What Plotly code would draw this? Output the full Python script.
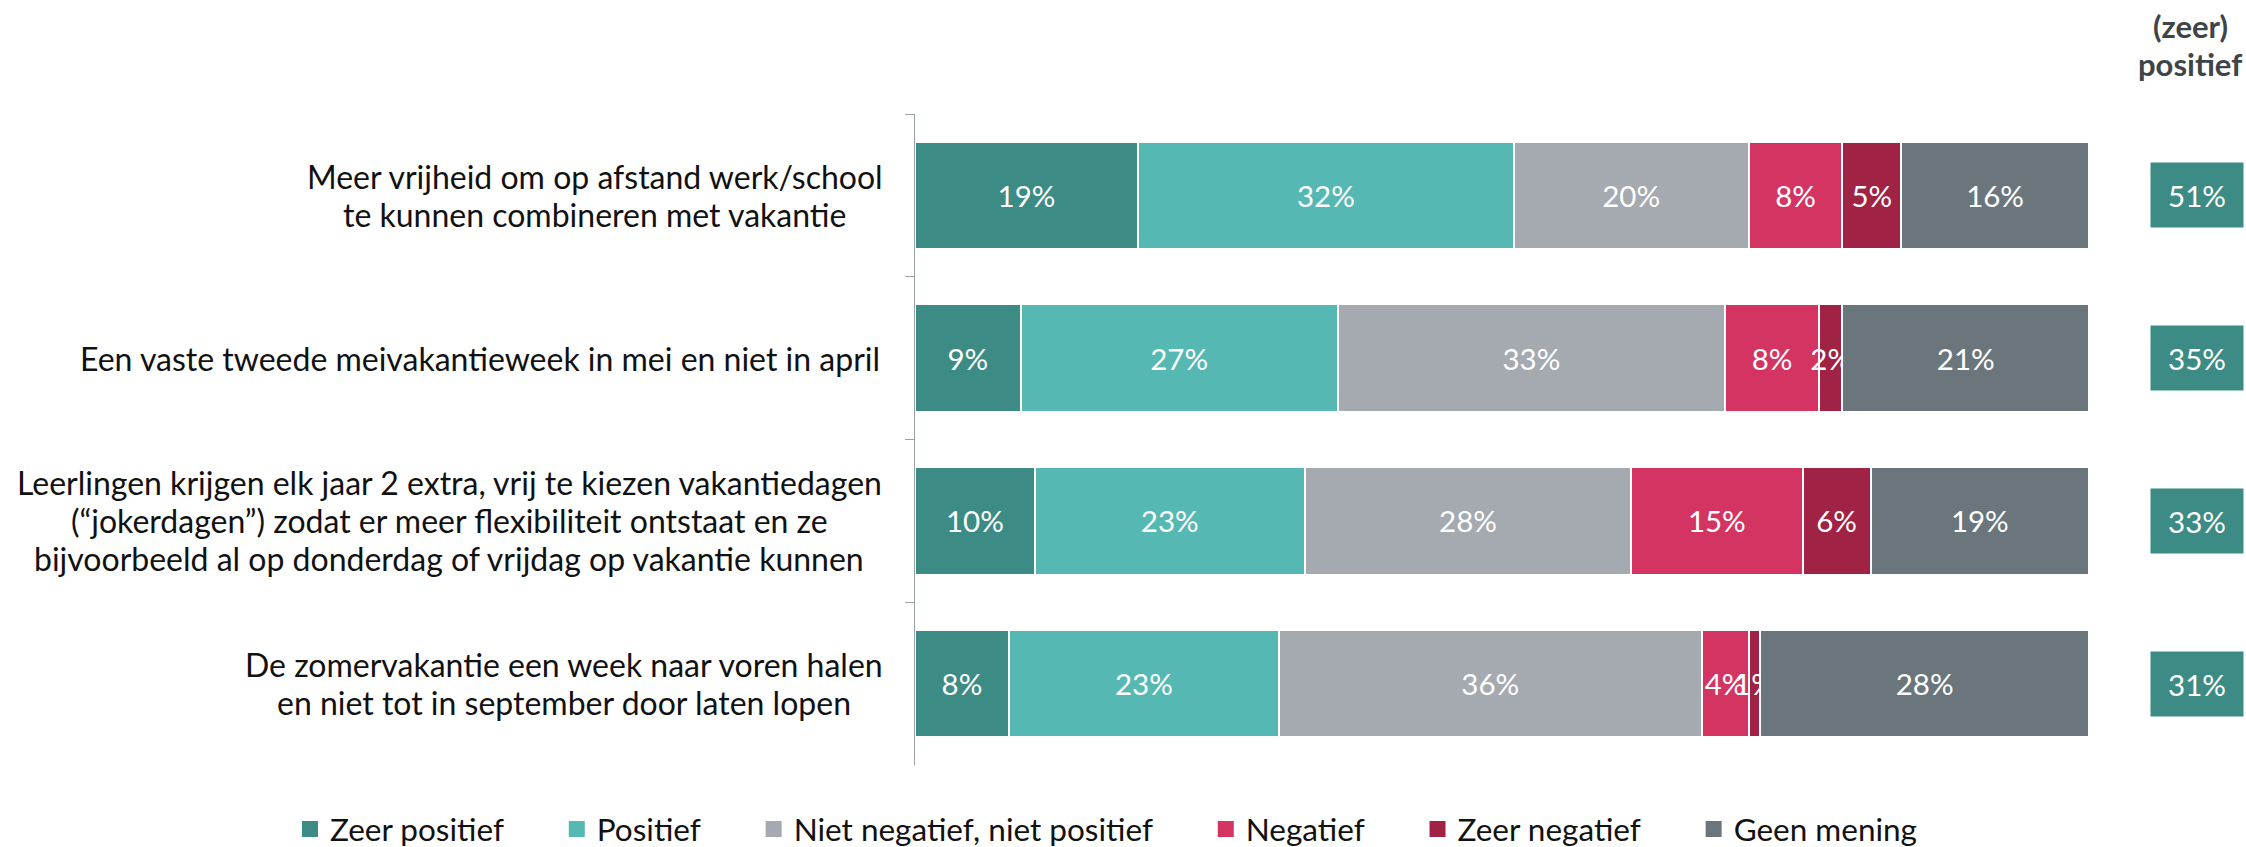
import plotly.graph_objects as go

categories = [
    "Meer vrijheid om op afstand werk/school<br>te kunnen combineren met vakantie",
    "Een vaste tweede meivakantieweek in mei en niet in april",
    "Leerlingen krijgen elk jaar 2 extra, vrij te kiezen vakantiedagen<br>(“jokerdagen”) zodat er meer flexibiliteit ontstaat en ze<br>bijvoorbeeld al op donderdag of vrijdag op vakantie kunnen",
    "De zomervakantie een week naar voren halen<br>en niet tot in september door laten lopen",
]
cat_ids = ["q1", "q2", "q3", "q4"]

series_names = ["Zeer positief", "Positief", "Niet negatief, niet positief",
                "Negatief", "Zeer negatief", "Geen mening"]
zeer_positief = [19, 9, 10.2, 8]
positief = [32, 27, 23.0, 23]
neutraal = [20, 33, 27.8, 36]
negatief = [8, 8, 14.6, 4]
zeer_negatief = [5, 2, 5.8, 1]
geen_mening = [16, 21, 18.6, 28]
totaal_positief = [51, 35, 33, 31]
header_lines = ["(zeer)", "positief"]

colors = ["#3C8C85", "#55B8B2", "#A4AAB0", "#D43461", "#A02244", "#6B767C"]
values = [zeer_positief, positief, neutraal, negatief, zeer_negatief, geen_mening]

FONT = "Lato, 'Open Sans', sans-serif"

# layout geometry (pixels)
W, H = 2246, 847
ML, MR, MT, MB = 915, 157, 114, 82
PW, PH = W - ML - MR, H - MT - MB
LABEL_RIGHT = 882
# horizontal centre (px) of each multi-line label block; None = right-aligned
label_centres = [594.5, None, 449, 563.7]


def px_x(x):
    return (x - ML) / PW


def px_y(y):
    return (H - MB - y) / PH


fig = go.Figure()
for i, (name, vals, col) in enumerate(zip(series_names, values, colors)):
    fig.add_trace(go.Bar(
        y=cat_ids, x=vals, name=name, orientation="h",
        marker=dict(color=col, line=dict(color="white", width=2)),
        texttemplate="%{x:.0f}%", textposition="inside",
        insidetextanchor="middle", constraintext="none", textangle=0,
        textfont=dict(color="white", size=29.5, family=FONT),
        hoverinfo="skip", legendgroup=name, showlegend=False,
    ))
# legend entries (square swatches like the reference)
for i, (name, col) in enumerate(zip(series_names, colors)):
    legend_name = name if i == len(series_names) - 1 else name + "\u00a0" * 6
    fig.add_trace(go.Scatter(
        x=[None], y=[None], mode="markers", name=legend_name,
        marker=dict(symbol="square", size=17, color=col),
        legendgroup=name, showlegend=True, hoverinfo="skip",
    ))

annotations = []
LINE = 38
for cid, label, centre in zip(cat_ids, categories, label_centres):
    lines = label.split("<br>")
    n = len(lines)
    for j, ln in enumerate(lines):
        if centre is None:
            xpos, anchor = px_x(LABEL_RIGHT), "right"
        else:
            xpos, anchor = px_x(centre), "center"
        annotations.append(dict(
            xref="paper", yref="y", x=xpos, y=cid, text=ln,
            xanchor=anchor, yanchor="middle", showarrow=False,
            yshift=-(j - (n - 1) / 2) * LINE,
            font=dict(size=32, color="#111111", family=FONT),
        ))
for cid, tp in zip(cat_ids, totaal_positief):
    annotations.append(dict(
        xref="paper", yref="y", x=px_x(2197), y=cid, text=f"{tp}%",
        xanchor="center", yanchor="middle", showarrow=False,
        bgcolor="#3C8C85", width=62, height=34, borderpad=15,
        font=dict(size=29.5, color="white", family=FONT),
    ))
for ln, yy in zip(header_lines, [26, 64]):
    annotations.append(dict(
        xref="paper", yref="paper", x=px_x(2190), y=px_y(yy),
        text=f"<b>{ln}</b>", xanchor="center", yanchor="middle",
        showarrow=False, font=dict(size=31, color="#3F4449", family=FONT),
    ))

fig.update_layout(
    width=W, height=H,
    barmode="stack", bargap=0.34,
    plot_bgcolor="white", paper_bgcolor="white",
    margin=dict(l=ML, r=MR, t=MT, b=MB, autoexpand=False),
    font=dict(family=FONT, color="#111111"),
    xaxis=dict(range=[0, 100], visible=False, fixedrange=True),
    yaxis=dict(
        categoryorder="array", categoryarray=cat_ids,
        range=[3.5, -0.5], showticklabels=False,
        showline=True, linecolor="#9AA0A6", linewidth=1,
        ticks="outside", tickson="boundaries", ticklen=9, tickcolor="#9AA0A6",
        showgrid=False, zeroline=False, fixedrange=True,
    ),
    showlegend=True,
    legend=dict(
        orientation="h", xref="paper", yref="paper",
        x=px_x(290), xanchor="left", y=px_y(829), yanchor="middle",
        font=dict(size=31.5, color="#111111", family=FONT),
        traceorder="normal", itemsizing="trace",
    ),
    annotations=annotations,
)

fig.write_html("out.html", config={"displayModeBar": False},
               post_script="document.body.style.margin='0';")
